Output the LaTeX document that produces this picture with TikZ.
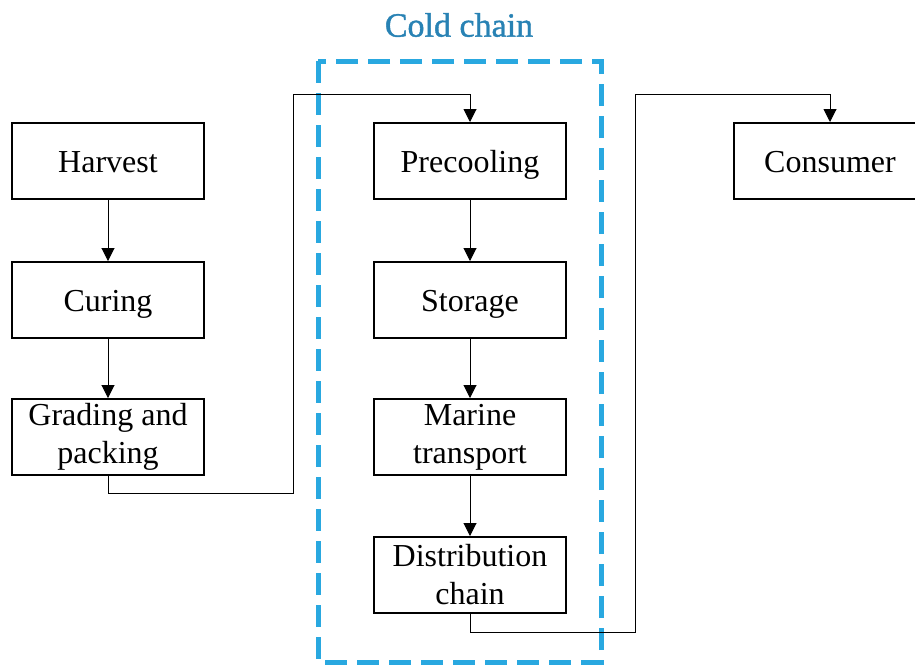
\documentclass[tikz,border=0pt]{standalone}
\usepackage{fontspec}
\setmainfont{Liberation Serif}
\newfontfamily\titlefont[FakeBold=1.2]{Liberation Serif}
\usepackage{xcolor}
\usetikzlibrary{arrows.meta, positioning}

\definecolor{coldblue}{RGB}{41,168,224}
\definecolor{titleblue}{RGB}{40,130,180}

\begin{document}
\begin{tikzpicture}[
  x=0.5pt, y=-0.5pt,
  stage/.style={rectangle, draw, line width=1pt, minimum width=96pt, minimum height=38pt,
    align=center, inner sep=2pt, font=\fontsize{16}{19}\selectfont},
  oneline/.style={stage, text height=14.5pt, text depth=3.5pt},
  arr/.style={-{Triangle[length=6.5pt, width=6.5pt]}, line width=0.5pt},
  coldbox/.style={draw=coldblue, line width=2.5pt, dash pattern=on 11pt off 5pt}
]
\useasboundingbox (0,0) rectangle (915,666);
\clip (0,0) rectangle (915,666);

% cold chain frame
\draw[coldbox] (318,61) rectangle (601,662);
\node (title) at (459,25) {\textcolor{titleblue}{\titlefont\fontsize{17}{20}\selectfont Cold chain}};

% stages
\node[oneline] (harvest) at (108,161) {Harvest};
\node[oneline] (curing) at (108,300) {Curing};
\node[stage] (grading) at (108,437) {Grading and\\packing};
\node[oneline] (precool) at (470,161) {Precooling};
\node[oneline] (storage) at (470,300) {Storage};
\node[stage] (marine) at (470,437) {Marine\\transport};
\node[stage] (distrib) at (470,575) {Distribution\\chain};
\node[oneline] (consumer) at (830,161) {Consumer};

\coordinate (g1) at (293,493);
\coordinate (g2) at (293,94);
\coordinate (d1) at (635,632);
\coordinate (d2) at (635,94);

\draw[arr] (harvest) -- (curing);
\draw[arr] (curing) -- (grading);
\draw[arr] (grading.south) |- (g1) -- (g2) -| (precool.north);
\draw[arr] (precool) -- (storage);
\draw[arr] (storage) -- (marine);
\draw[arr] (marine) -- (distrib);
\draw[arr] (distrib.south) |- (d1) -- (d2) -| (consumer.north);
\end{tikzpicture}
\end{document}
